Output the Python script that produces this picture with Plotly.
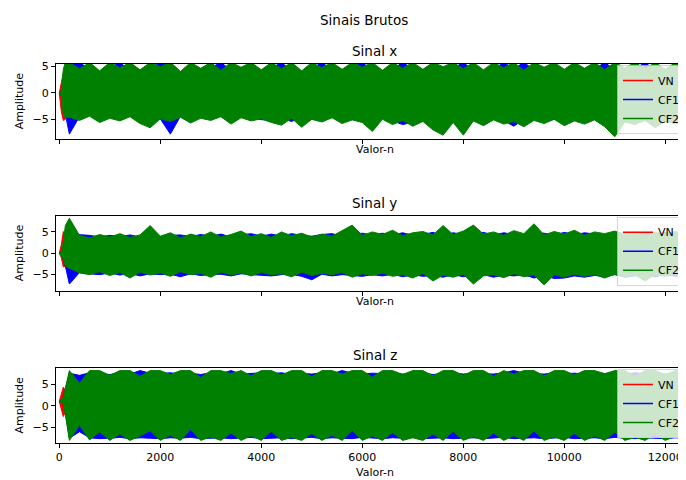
import plotly.graph_objects as go

# ---------------- data (envelopes) ----------------
# sample positions for the green/blue series
START_X = [0, 40, 80, 120]
BODY_X = list(range(200, 12401, 200))
SAMPLE_X = START_X + BODY_X

# sample positions for the red series (VN)
RED_X = [0, 40, 80, 120, 200, 1000, 2000, 3000, 4000, 5000, 5700, 5870,
         6000, 7000, 8000, 9000, 10000, 11000, 12000, 12400]

SERIES_NAMES = ["VN", "CF1", "CF2"]
PANEL_TITLES = ["Sinal x", "Sinal y", "Sinal z"]
X_TICKS = [0, 2000, 4000, 6000, 8000, 10000, 12000]
X_TICK_LABELS = ["0", "2000", "4000", "6000", "8000", "10000", "12000"]
Y_TICKS = [-5, 0, 5]

# ----- Sinal x -----
x_cf2_up = [0.2, 0.4, 4.5, 5.8,
            5.8, 4.6, 5.8, 4.2, 5.8, 4.8, 5.8, 4.4, 5.8, 5.0,
            5.8, 4.1, 5.8, 4.7, 5.8, 4.3, 5.8, 4.9, 5.8, 4.4,
            5.8, 4.6, 5.8, 4.2, 5.8, 4.8, 5.8, 4.5, 5.8, 4.9,
            5.8, 4.3, 5.8, 4.7, 5.8, 4.5, 5.8, 5.0, 5.8, 4.6,
            5.8, 4.4, 5.8, 4.8, 5.8, 4.3, 5.8, 4.9, 5.8, 4.5,
            5.8, 4.7, 5.8, 4.4, 5.8, 4.8, 5.8, 4.6, 5.8, 4.5,
            5.8, 4.7]
x_cf2_lo = [-0.2, -0.4, -4.0, -4.8,
            -4.6, -5.2, -4.4, -5.6, -4.8, -5.3, -4.5, -5.8, -6.6, -4.9,
            -5.4, -4.6, -5.7, -4.8, -5.2, -4.5, -5.9, -4.7, -5.3, -4.9,
            -5.6, -6.1, -4.8, -6.5, -5.0, -5.5, -4.7, -5.8, -5.1, -5.6,
            -7.3, -5.0, -6.0, -5.2, -6.3, -5.4, -7.0, -8.0, -5.6, -8.0,
            -5.3, -6.2, -5.1, -5.9, -5.4, -6.4, -5.2, -5.8, -5.0, -6.2,
            -5.3, -5.9, -5.1, -6.4, -8.3, -5.5, -6.0, -5.2, -6.6, -5.4,
            -5.9, -5.1]
x_cf1_up = [0.0, 0.2, 2.5, 5.0,
            5.8, 5.8, 4.5, 4.0, 4.8, 5.8, 4.2, 4.0, 4.6, 5.8,
            5.8, 4.0, 4.4, 4.1, 4.8, 5.8, 4.3, 4.1, 4.5, 4.0,
            4.7, 5.8, 4.2, 4.0, 4.6, 5.8, 4.4, 4.2, 4.8, 5.8,
            4.3, 4.1, 4.5, 5.8, 4.6, 4.2, 4.4, 4.1, 4.7, 5.8,
            4.3, 4.0, 4.5, 5.8, 4.6, 5.8, 4.4, 4.2, 4.5, 4.1,
            4.8, 4.3, 4.5, 5.8, 4.4, 4.2, 4.6, 5.8, 4.3, 4.1,
            4.5, 4.2]
x_cf1_lo = [0.0, -0.2, -2.5, -4.0,
            -7.8, -4.5, -4.2, -5.0, -4.4, -4.8, -4.3, -5.2, -4.6, -4.9,
            -7.8, -4.4, -5.0, -4.5, -4.8, -4.3, -5.4, -4.6, -4.9, -5.0,
            -5.2, -4.8, -5.4, -4.6, -4.9, -5.3, -4.5, -5.0, -4.7, -5.2,
            -5.0, -4.8, -5.3, -6.0, -5.5, -5.0, -5.2, -5.1, -5.4, -5.0,
            -5.0, -5.4, -4.8, -5.2, -6.3, -5.0, -4.9, -5.3, -5.0, -5.3,
            -5.0, -5.3, -4.8, -5.5, -5.2, -5.0, -5.4, -5.0, -5.3, -5.1,
            -5.0, -4.9]
x_vn_up = [0.0, 2.0, 3.8, 3.0, 3.5, 3.4, 3.6, 3.3, 3.5, 3.4, 3.6, 5.8,
           3.5, 3.4, 3.6, 3.5, 3.4, 3.6, 3.5, 3.4]
x_vn_lo = [0.0, -3.5, -5.2, -5.0, -3.8, -3.7, -3.9, -3.6, -3.8, -3.7, -3.9,
           -3.6, -3.8, -3.7, -3.9, -3.8, -3.7, -3.9, -3.8, -3.7]

# ----- Sinal y -----
y_cf2_up = [0.1, 0.4, 2.5, 6.5,
            8.2, 4.2, 3.6, 4.4, 3.8, 4.6, 3.7, 4.3, 6.5, 4.0,
            4.8, 3.6, 4.5, 3.9, 5.0, 3.8, 4.4, 5.2, 3.9, 4.6,
            3.7, 5.0, 4.1, 4.7, 3.8, 4.5, 4.0, 5.3, 6.6, 4.2,
            5.0, 4.4, 5.4, 4.1, 4.8, 5.1, 4.3, 6.5, 4.4, 5.2,
            6.6, 4.5, 5.0, 4.2, 5.3, 4.6, 6.9, 4.3, 5.1, 4.5,
            5.4, 4.2, 5.0, 4.6, 5.2, 4.4, 5.0, 4.3, 4.9, 4.5,
            5.1, 4.4]
y_cf2_lo = [-0.1, -0.4, -1.5, -3.0,
            -3.5, -4.6, -5.0, -4.3, -5.2, -4.5, -5.8, -4.4, -5.1, -4.6,
            -5.4, -4.3, -5.0, -4.7, -5.6, -4.4, -5.1, -4.6, -5.3, -4.5,
            -5.0, -4.8, -5.5, -4.4, -5.2, -4.7, -5.0, -4.5, -5.6, -4.8,
            -5.2, -4.6, -5.4, -5.0, -5.8, -4.7, -6.5, -5.1, -5.6, -4.9,
            -7.2, -5.3, -5.0, -5.7, -4.8, -5.5, -5.1, -7.4, -5.0, -5.6,
            -4.9, -5.4, -5.0, -5.8, -4.9, -5.5, -5.1, -6.5, -5.0, -5.4,
            -4.8, -5.2]
y_cf1_up = [0.0, 0.3, 2.0, 4.0,
            4.5, 4.4, 4.2, 3.8, 4.2, 3.9, 4.3, 3.8, 4.6, 3.9,
            4.2, 4.3, 3.9, 4.4, 4.0, 4.5, 3.8, 4.3, 4.6, 4.0,
            4.5, 4.0, 4.6, 4.2, 4.0, 4.4, 4.6, 4.0, 4.5, 4.7,
            4.2, 4.7, 4.3, 4.8, 4.2, 4.4, 4.9, 4.0, 4.8, 4.4,
            4.3, 4.9, 4.2, 4.8, 4.4, 4.3, 4.8, 4.7, 4.2, 4.9,
            4.3, 4.8, 4.5, 4.2, 4.9, 4.6, 4.3, 4.8, 4.4, 4.9,
            4.3, 4.8]
y_cf1_lo = [0.0, -0.3, -1.5, -3.0,
            -7.2, -4.5, -4.8, -5.0, -4.6, -5.1, -4.7, -5.3, -4.8, -5.0,
            -4.9, -5.5, -4.8, -5.2, -5.0, -4.9, -5.3, -4.8, -5.0, -5.2,
            -5.3, -5.0, -4.9, -5.4, -6.2, -4.9, -5.3, -5.0, -5.2, -5.4,
            -5.0, -5.3, -4.9, -5.5, -5.0, -5.4, -5.2, -5.6, -5.0, -5.5,
            -5.2, -5.0, -5.6, -5.1, -5.3, -5.0, -5.8, -5.2, -5.9, -5.8,
            -5.3, -5.6, -5.2, -5.4, -5.0, -5.6, -5.3, -5.2, -5.5, -5.0,
            -5.4, -5.0]
y_vn_up = [0.0, 2.0, 5.1, 4.0, 3.2, 3.0, 3.2, 3.1, 3.0, 3.2, 3.1, 3.0,
           3.2, 3.1, 3.0, 3.2, 3.1, 3.0, 3.2, 3.1]
y_vn_lo = [0.0, -1.0, -3.2, -3.0, -3.2, -3.0, -3.2, -3.1, -3.0, -3.2, -3.1,
           -3.0, -3.2, -3.1, -3.0, -3.2, -3.1, -3.0, -3.2, -3.1]

# ----- Sinal z -----
z_cf2_up = [1.2, 1.4, 2.0, 4.0,
            8.1, 5.2, 8.1, 8.1, 7.0, 8.1, 8.1, 6.8, 8.1, 8.1,
            7.2, 8.1, 8.1, 6.5, 8.1, 8.1, 7.4, 8.1, 6.9, 8.1,
            8.1, 7.1, 8.1, 8.1, 6.7, 8.1, 8.1, 7.3, 8.1, 8.1,
            6.6, 8.1, 8.1, 7.2, 8.1, 8.1, 6.9, 8.1, 8.1, 7.0,
            8.1, 8.1, 6.8, 8.1, 7.3, 8.1, 8.1, 6.9, 8.1, 8.1,
            7.1, 8.1, 8.1, 7.4, 8.1, 8.1, 6.8, 8.1, 8.1, 7.2,
            8.1, 8.1]
z_cf2_lo = [1.0, 0.8, 0.4, -2.0,
            -8.0, -4.5, -7.9, -6.0, -8.0, -6.5, -8.0, -7.0, -5.8, -8.0,
            -6.8, -8.0, -5.5, -8.0, -7.2, -8.0, -6.3, -8.0, -6.9, -8.0,
            -5.9, -8.0, -7.3, -8.0, -6.4, -8.0, -6.8, -8.0, -5.7, -8.0,
            -7.0, -8.0, -6.2, -8.0, -7.4, -8.0, -6.5, -8.0, -5.9, -8.0,
            -7.1, -8.0, -6.3, -8.0, -6.9, -8.0, -5.8, -8.0, -7.2, -8.0,
            -6.4, -8.0, -7.0, -8.0, -6.1, -8.0, -7.3, -8.0, -6.6, -8.0,
            -7.0, -8.0]
z_cf1_up = [1.0, 1.2, 1.8, 3.5,
            7.5, 7.0, 7.6, 7.4, 7.2, 7.6, 7.3, 8.1, 7.5, 7.4,
            7.6, 7.3, 7.5, 7.2, 7.6, 7.4, 8.1, 7.3, 7.5, 7.6,
            7.4, 7.6, 7.2, 7.5, 7.3, 7.6, 7.4, 8.1, 7.5, 7.3,
            7.5, 7.4, 7.6, 7.3, 7.5, 7.6, 7.2, 7.4, 7.6, 7.3,
            7.5, 7.4, 7.3, 7.6, 8.1, 7.5, 7.4, 7.3, 7.6, 7.4,
            7.5, 7.3, 7.6, 7.4, 7.5, 7.3, 7.6, 7.4, 7.5, 7.3,
            7.6, 7.4]
z_cf1_lo = [1.0, 0.9, 0.5, -1.5,
            -7.5, -6.0, -7.4, -7.6, -7.5, -7.3, -7.6, -7.4, -7.5, -7.6,
            -7.4, -7.5, -7.3, -7.6, -7.5, -7.4, -7.6, -7.5, -7.3, -7.6,
            -7.5, -7.4, -7.6, -7.5, -7.3, -7.6, -7.4, -7.5, -7.6, -7.3,
            -7.5, -7.6, -7.4, -7.5, -7.3, -7.6, -7.5, -7.4, -7.6, -7.5,
            -7.4, -7.6, -7.5, -7.3, -7.6, -7.5, -7.4, -7.6, -7.5, -7.3,
            -7.6, -7.5, -7.4, -7.6, -7.3, -7.5, -7.6, -7.4, -7.5, -7.6,
            -7.4, -7.5]
z_vn_up = [1.0, 3.0, 4.3, 3.5, 6.0, 5.8, 6.0, 5.9, 5.8, 6.0, 5.9, 5.8,
           6.0, 5.9, 5.8, 6.0, 5.9, 5.8, 6.0, 5.9]
z_vn_lo = [1.0, -1.0, -2.5, -1.5, -6.0, -5.8, -6.0, -5.9, -5.8, -6.0, -5.9,
           -5.8, -6.0, -5.9, -5.8, -6.0, -5.9, -5.8, -6.0, -5.9]

PANELS = [
    {"vn": (x_vn_up, x_vn_lo), "cf1": (x_cf1_up, x_cf1_lo), "cf2": (x_cf2_up, x_cf2_lo)},
    {"vn": (y_vn_up, y_vn_lo), "cf1": (y_cf1_up, y_cf1_lo), "cf2": (y_cf2_up, y_cf2_lo)},
    {"vn": (z_vn_up, z_vn_lo), "cf1": (z_cf1_up, z_cf1_lo), "cf2": (z_cf2_up, z_cf2_lo)},
]

# ---------------- layout geometry ----------------
# the page body has an 8px margin, so the figure is 8px smaller and every
# window-pixel position below is shifted by OFF
OFF = 8
W, H = 686 - OFF, 480 - OFF
PANEL_PX = [(64, 138.7), (215.7, 290.7), (368, 443)]   # window pixels
Y_RANGES = [[-8.67, 5.5], [-8.76, 8.8], [-8.6, 8.7]]
X_RANGE = [-65, 12410]
X_DOMAIN = [(56 - OFF) / W, 1.0]
COLORS = {"vn": "#ff0000", "cf1": "#0000ff", "cf2": "#008000"}
FONT = "DejaVu Sans"


def py(px):
    return 1 - (px - OFF) / H


def pxx(px):
    return (px - OFF) / W


fig = go.Figure()

for i, panel in enumerate(PANELS):
    sfx = "" if i == 0 else str(i + 1)
    xa, ya = "x" + sfx, "y" + sfx
    leg = "legend" + sfx
    for key in ["vn", "cf1", "cf2"]:
        up, lo = panel[key]
        xs = RED_X if key == "vn" else SAMPLE_X
        fig.add_trace(go.Scatter(
            x=xs, y=lo, mode="lines", line=dict(color=COLORS[key], width=1),
            xaxis=xa, yaxis=ya, showlegend=False, hoverinfo="skip"))
        fig.add_trace(go.Scatter(
            x=xs, y=up, mode="lines", line=dict(color=COLORS[key], width=1),
            fill="tonexty", fillcolor=COLORS[key],
            xaxis=xa, yaxis=ya, showlegend=False, hoverinfo="skip"))
    for key, name in zip(["vn", "cf1", "cf2"], SERIES_NAMES):
        fig.add_trace(go.Scatter(
            x=[None], y=[None], mode="lines", name=name,
            line=dict(color=COLORS[key], width=1.5),
            xaxis=xa, yaxis=ya, legend=leg, showlegend=True))

axis_common = dict(showline=True, mirror=True, linecolor="black", linewidth=1,
                   ticks="outside", ticklen=4, tickcolor="black", tickwidth=1,
                   showgrid=False, zeroline=False,
                   tickfont=dict(family=FONT, size=11, color="black"))

layout = dict(width=W, height=H, margin=dict(l=0, r=0, t=0, b=0, autoexpand=False),
              paper_bgcolor="white", plot_bgcolor="white",
              font=dict(family=FONT, size=11, color="black"))

annotations = [dict(text="Sinais Brutos", x=pxx(364), y=py(20), xref="paper", yref="paper",
                    showarrow=False, xanchor="center", yanchor="middle",
                    font=dict(family=FONT, size=13.5, color="black"))]

for i, ((top, bot), yr, title) in enumerate(zip(PANEL_PX, Y_RANGES, PANEL_TITLES)):
    sfx = "" if i == 0 else str(i + 1)
    layout["xaxis" + sfx] = dict(axis_common, domain=X_DOMAIN, range=X_RANGE,
                                 tickvals=X_TICKS, ticktext=X_TICK_LABELS,
                                 showticklabels=(i == 2), anchor="y" + sfx)
    layout["yaxis" + sfx] = dict(axis_common, domain=[py(bot), py(top)], range=yr,
                                 tickvals=Y_TICKS, anchor="x" + sfx)
    layout["legend" + sfx] = dict(
        x=1.0, xanchor="right", y=py(top + 1), yanchor="top",
        traceorder="normal", itemwidth=30,
        bgcolor="rgba(255,255,255,0.8)", bordercolor="rgba(204,204,204,0.8)",
        borderwidth=1, font=dict(family=FONT, size=11, color="black"),
        tracegroupgap=0)
    annotations.append(dict(text=title, x=pxx(374.5), y=py(top - 13), xref="paper",
                            yref="paper", showarrow=False, xanchor="center",
                            yanchor="middle", font=dict(family=FONT, size=13.5, color="black")))
    xlabel_y = bot + 11 if i < 2 else bot + 29
    annotations.append(dict(text="Valor-n", x=pxx(374.5), y=py(xlabel_y), xref="paper",
                            yref="paper", showarrow=False, xanchor="center",
                            yanchor="middle", font=dict(family=FONT, size=11, color="black")))
    annotations.append(dict(text="Amplitude", x=pxx(19), y=py((top + bot) / 2),
                            xref="paper", yref="paper", showarrow=False, textangle=-90,
                            xanchor="center", yanchor="middle",
                            font=dict(family=FONT, size=11, color="black")))

layout["annotations"] = annotations
fig.update_layout(**layout)
fig.write_html("out.html")
